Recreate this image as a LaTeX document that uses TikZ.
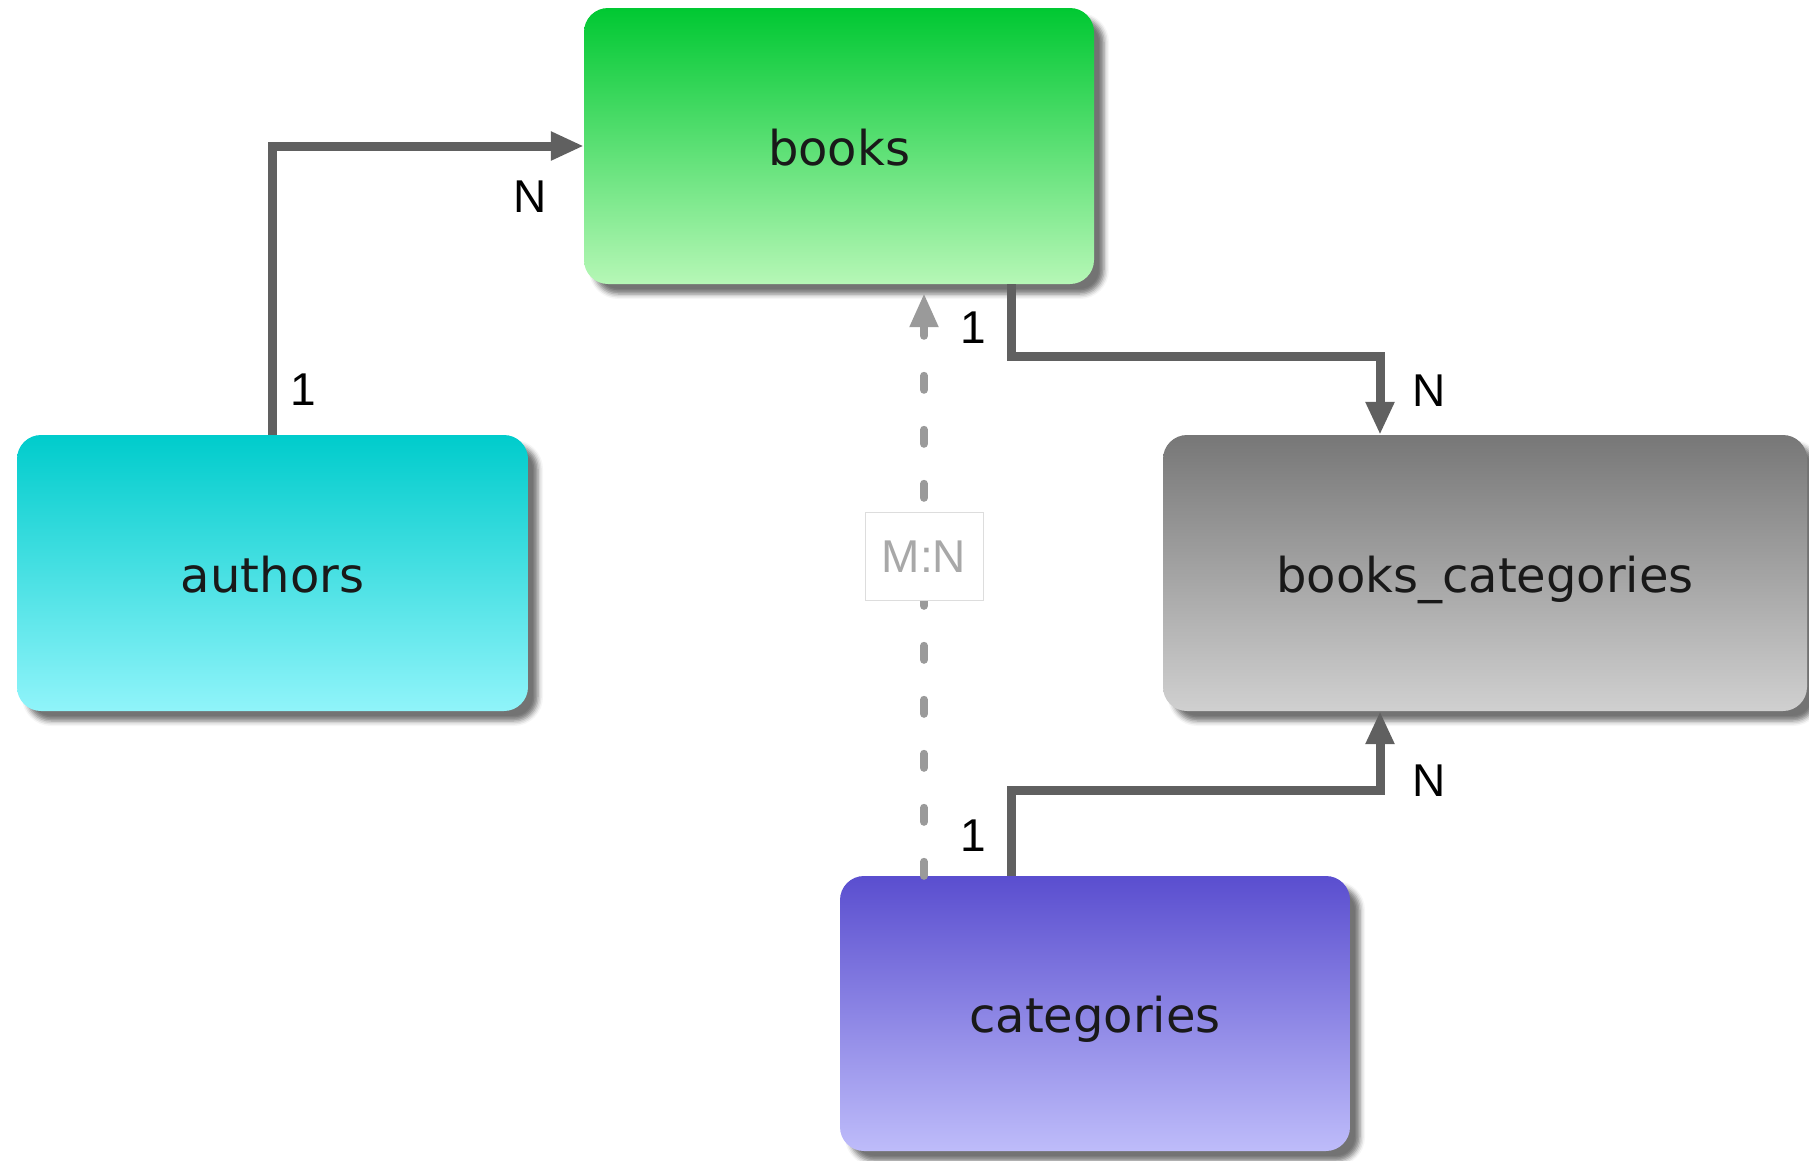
\documentclass[tikz,border=0pt]{standalone}
\usepackage{fontspec}
\setmainfont{DejaVu Sans}
\newfontfamily\labfont{Liberation Sans}
\usetikzlibrary{arrows.meta,shadows.blur}
\definecolor{conn}{HTML}{606060}
\definecolor{dashc}{HTML}{9A9A9A}
\definecolor{mntext}{HTML}{A8A8A8}
\definecolor{mnborder}{HTML}{DDDDDD}
\definecolor{bookstop}{HTML}{00C832}
\definecolor{booksbot}{HTML}{B6F7B6}
\definecolor{authtop}{HTML}{00CCCC}
\definecolor{authbot}{HTML}{90F4FA}
\definecolor{bctop}{HTML}{777777}
\definecolor{bcbot}{HTML}{D0D0D0}
\definecolor{cattop}{HTML}{5A4ECF}
\definecolor{catbot}{HTML}{BEBCFA}
\tikzset{
  tbl/.style={rounded corners=24pt, minimum height=276pt, inner sep=0pt,
    text height=38pt, text depth=0pt,
    font=\fontsize{48}{58}\selectfont, text=black!90,
    blur shadow={shadow xshift=10pt, shadow yshift=-10pt, shadow blur radius=5pt, shadow opacity=55}},
  rel/.style={draw=conn, line width=9pt, -{Triangle[length=33pt,width=27pt]}},
  mn/.style={draw=dashc, line width=8pt, line cap=round, dash pattern=on 14pt off 40pt,
    -{Triangle[length=34pt,width=27pt]}},
  card/.style={font=\labfont\fontsize{46}{56}\selectfont, text=black, inner sep=0pt},
}
\begin{document}
\begin{tikzpicture}[x=1pt,y=-1pt]
\useasboundingbox (0,0) rectangle (1809,1160);
\node[tbl, minimum width=510pt, top color=bookstop, bottom color=booksbot] (books) at (839,146) {books};
\node[tbl, minimum width=511pt, top color=authtop, bottom color=authbot] (authors) at (272.5,573) {authors};
\node[tbl, minimum width=644pt, top color=bctop, bottom color=bcbot] (bc) at (1485,573) {books\_categories};
\node[tbl, minimum width=510pt, minimum height=275pt, top color=cattop, bottom color=catbot] (cat) at (1095,1013.5) {categories};

\draw[rel] (authors.north) |- (books.west);
\draw[rel] ([xshift=172pt]books.south) -- ++(0,72) -| ([xshift=-105pt]bc.north);
\draw[rel] ([xshift=-84pt]cat.north) -- ++(0,-85) -| ([xshift=-105pt]bc.south);
\draw[mn, shorten >=9pt] ([xshift=-171pt]cat.north) -- ([xshift=85pt]books.south)
  node[pos=0.54, fill=white, draw=mnborder, line width=1pt, solid, minimum width=118pt, minimum height=88pt,
       font=\labfont\fontsize{46}{56}\selectfont, text=mntext] (mnlab) {M:N};

\node[card] (c1) at (303,390) {1};
\node[card] (c2) at (530,197) {N};
\node[card] (c3) at (973,328) {1};
\node[card] (c4) at (1429,391) {N};
\node[card] (c5) at (973,836) {1};
\node[card] (c6) at (1429,781) {N};
\end{tikzpicture}
\end{document}
